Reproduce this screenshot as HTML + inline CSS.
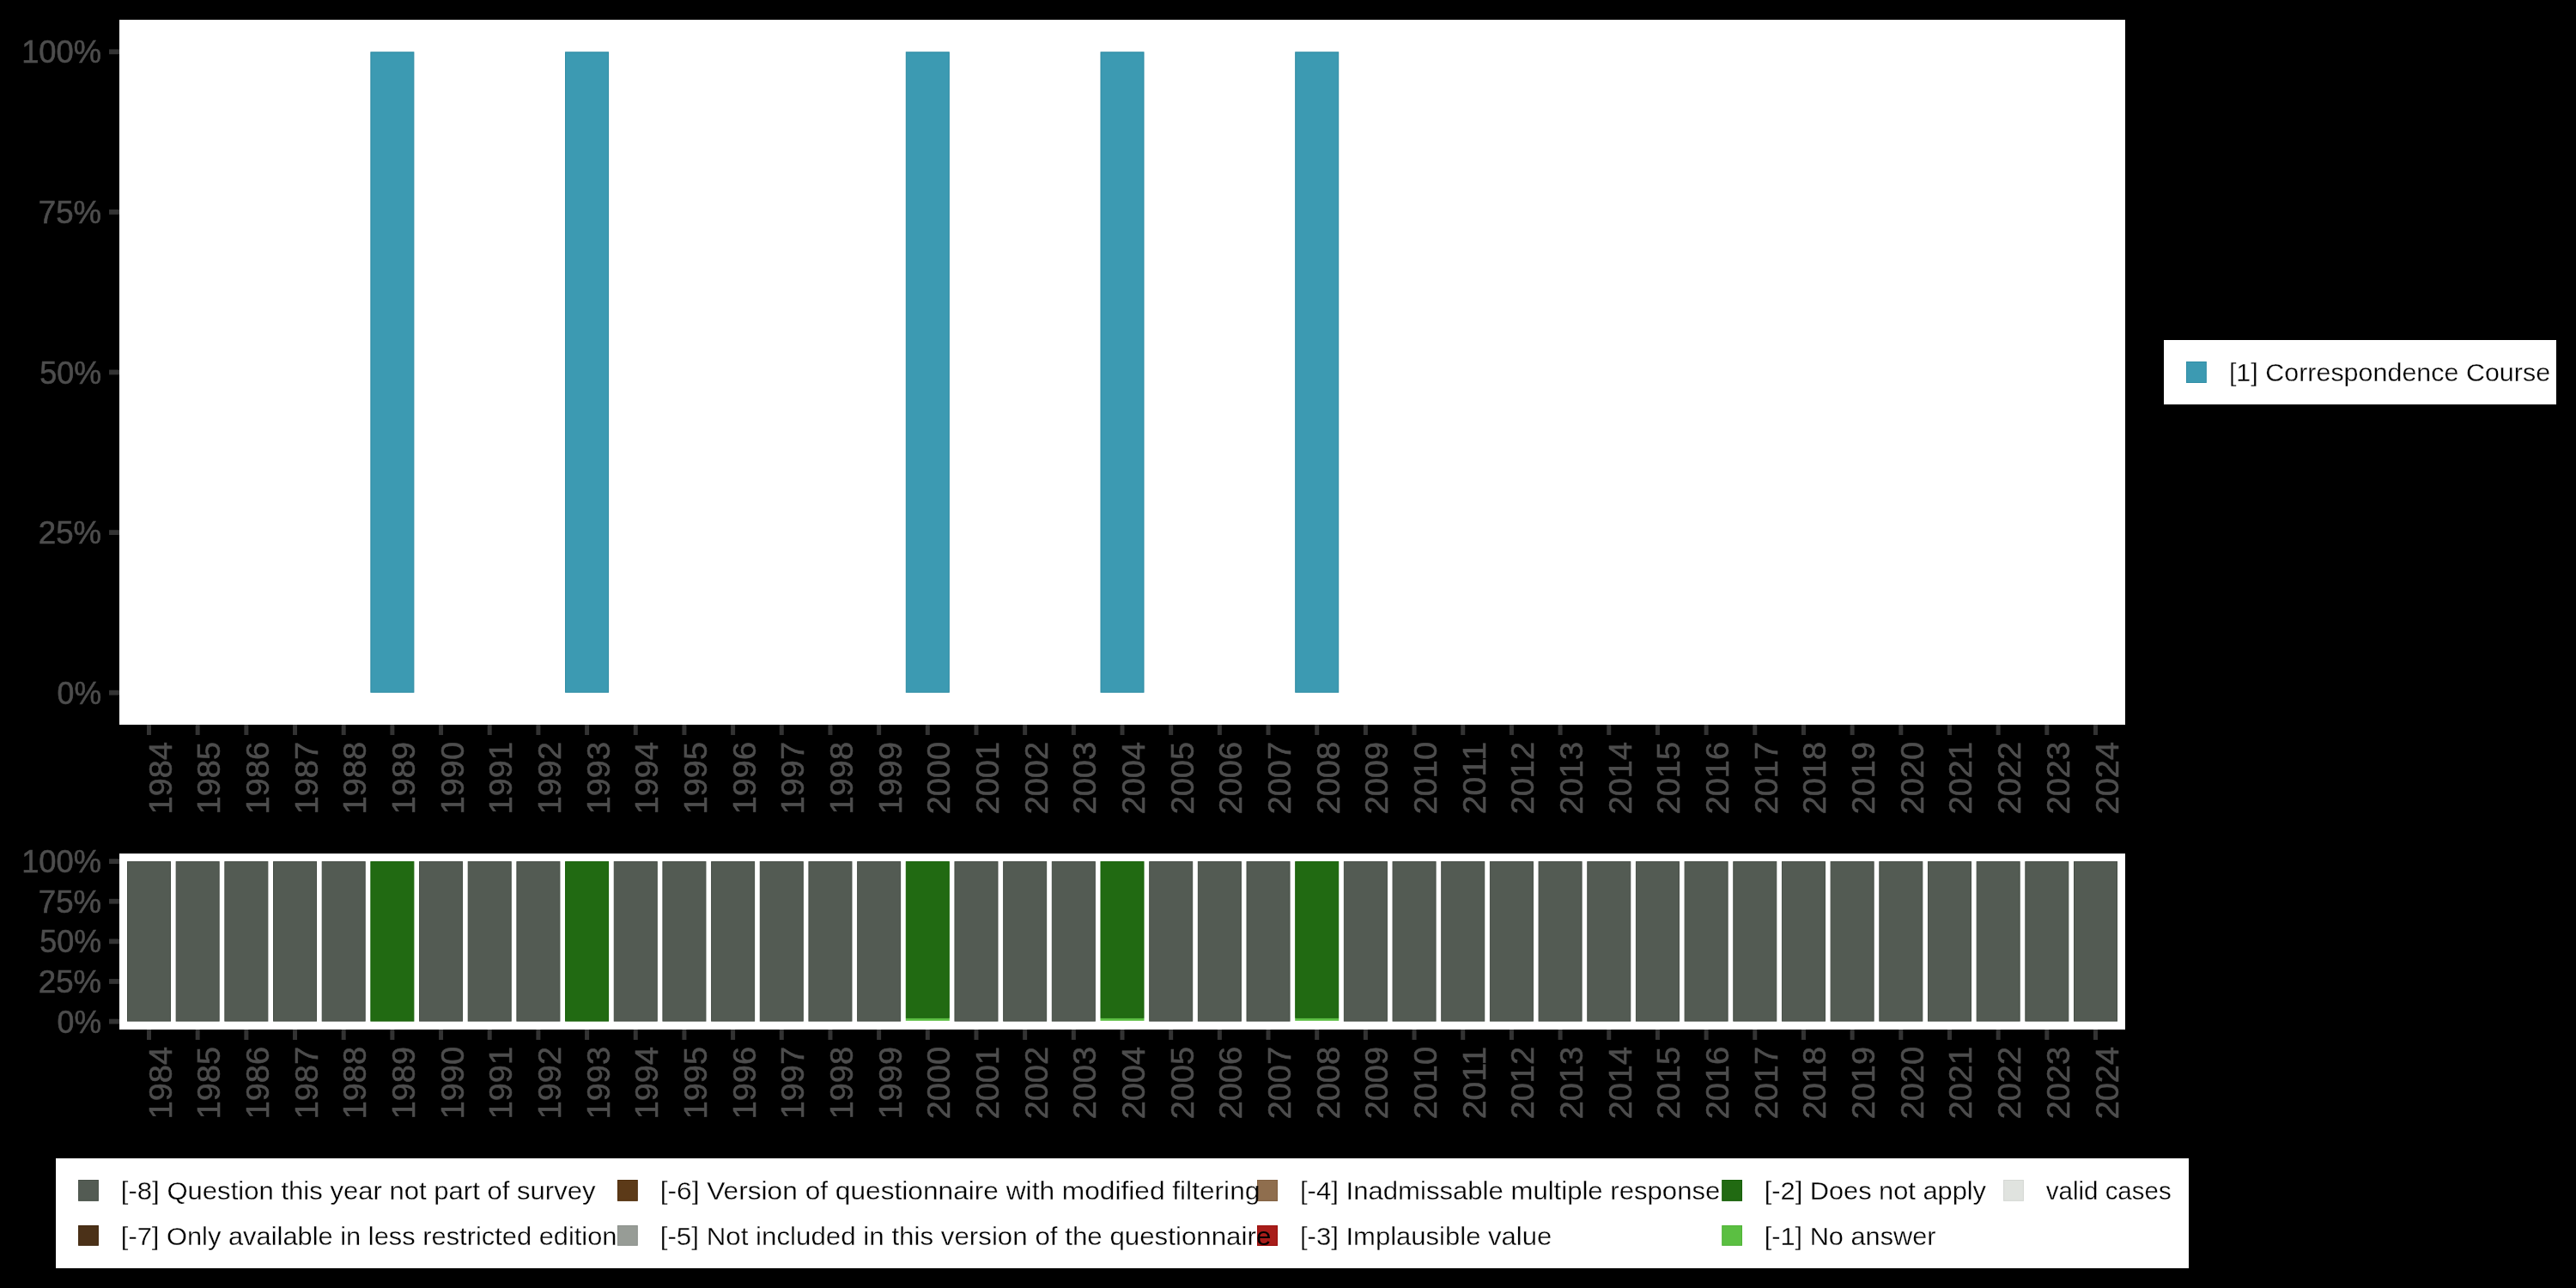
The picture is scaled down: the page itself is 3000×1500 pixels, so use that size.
<!DOCTYPE html><html><head><meta charset="utf-8"><style>html,body{margin:0;padding:0;background:#000;overflow:hidden}svg{display:block;will-change:transform}text{font-family:"Liberation Sans",sans-serif}</style></head><body>
<svg width="3000" height="1500" viewBox="0 0 3000 1500">
<rect x="0" y="0" width="3000" height="1500" fill="#000"/>
<rect x="139" y="23" width="2336" height="821" fill="#fff"/>
<rect x="431.87" y="60.80" width="50.01" height="745.40" fill="#3C9AB2" stroke="#2C8AA2" stroke-width="1"/>
<rect x="658.57" y="60.80" width="50.01" height="745.40" fill="#3C9AB2" stroke="#2C8AA2" stroke-width="1"/>
<rect x="1055.30" y="60.80" width="50.01" height="745.40" fill="#3C9AB2" stroke="#2C8AA2" stroke-width="1"/>
<rect x="1282.00" y="60.80" width="50.01" height="745.40" fill="#3C9AB2" stroke="#2C8AA2" stroke-width="1"/>
<rect x="1508.70" y="60.80" width="50.01" height="745.40" fill="#3C9AB2" stroke="#2C8AA2" stroke-width="1"/>
<rect x="127" y="803.80" width="12" height="5.8" fill="#333333"/>
<text x="66.61" y="819.70" font-size="37.0" fill="#4D4D4D" stroke="#4D4D4D" stroke-width="0.6" textLength="51.48" lengthAdjust="spacingAndGlyphs">0%</text>
<rect x="127" y="617.20" width="12" height="5.8" fill="#333333"/>
<text x="44.77" y="633.10" font-size="37.0" fill="#4D4D4D" stroke="#4D4D4D" stroke-width="0.6" textLength="73.32" lengthAdjust="spacingAndGlyphs">25%</text>
<rect x="127" y="430.60" width="12" height="5.8" fill="#333333"/>
<text x="46.27" y="446.50" font-size="37.0" fill="#4D4D4D" stroke="#4D4D4D" stroke-width="0.6" textLength="71.80" lengthAdjust="spacingAndGlyphs">50%</text>
<rect x="127" y="244.00" width="12" height="5.8" fill="#333333"/>
<text x="44.77" y="259.90" font-size="37.0" fill="#4D4D4D" stroke="#4D4D4D" stroke-width="0.6" textLength="73.32" lengthAdjust="spacingAndGlyphs">75%</text>
<rect x="127" y="57.40" width="12" height="5.8" fill="#333333"/>
<text x="25.13" y="73.30" font-size="37.0" fill="#4D4D4D" stroke="#4D4D4D" stroke-width="0.6" textLength="92.94" lengthAdjust="spacingAndGlyphs">100%</text>
<rect x="171.00" y="844" width="5" height="12" fill="#333333"/>
<text transform="translate(199.50,864) rotate(-90)" font-size="37.0" fill="#4D4D4D" stroke="#4D4D4D" stroke-width="0.6" text-anchor="end" textLength="84.3" lengthAdjust="spacingAndGlyphs">1984</text>
<rect x="227.68" y="844" width="5" height="12" fill="#333333"/>
<text transform="translate(256.18,864) rotate(-90)" font-size="37.0" fill="#4D4D4D" stroke="#4D4D4D" stroke-width="0.6" text-anchor="end" textLength="84.3" lengthAdjust="spacingAndGlyphs">1985</text>
<rect x="284.35" y="844" width="5" height="12" fill="#333333"/>
<text transform="translate(312.85,864) rotate(-90)" font-size="37.0" fill="#4D4D4D" stroke="#4D4D4D" stroke-width="0.6" text-anchor="end" textLength="84.3" lengthAdjust="spacingAndGlyphs">1986</text>
<rect x="341.02" y="844" width="5" height="12" fill="#333333"/>
<text transform="translate(369.52,864) rotate(-90)" font-size="37.0" fill="#4D4D4D" stroke="#4D4D4D" stroke-width="0.6" text-anchor="end" textLength="84.3" lengthAdjust="spacingAndGlyphs">1987</text>
<rect x="397.70" y="844" width="5" height="12" fill="#333333"/>
<text transform="translate(426.20,864) rotate(-90)" font-size="37.0" fill="#4D4D4D" stroke="#4D4D4D" stroke-width="0.6" text-anchor="end" textLength="84.3" lengthAdjust="spacingAndGlyphs">1988</text>
<rect x="454.38" y="844" width="5" height="12" fill="#333333"/>
<text transform="translate(482.88,864) rotate(-90)" font-size="37.0" fill="#4D4D4D" stroke="#4D4D4D" stroke-width="0.6" text-anchor="end" textLength="84.3" lengthAdjust="spacingAndGlyphs">1989</text>
<rect x="511.05" y="844" width="5" height="12" fill="#333333"/>
<text transform="translate(539.55,864) rotate(-90)" font-size="37.0" fill="#4D4D4D" stroke="#4D4D4D" stroke-width="0.6" text-anchor="end" textLength="84.3" lengthAdjust="spacingAndGlyphs">1990</text>
<rect x="567.72" y="844" width="5" height="12" fill="#333333"/>
<text transform="translate(596.22,864) rotate(-90)" font-size="37.0" fill="#4D4D4D" stroke="#4D4D4D" stroke-width="0.6" text-anchor="end" textLength="84.3" lengthAdjust="spacingAndGlyphs">1991</text>
<rect x="624.40" y="844" width="5" height="12" fill="#333333"/>
<text transform="translate(652.90,864) rotate(-90)" font-size="37.0" fill="#4D4D4D" stroke="#4D4D4D" stroke-width="0.6" text-anchor="end" textLength="84.3" lengthAdjust="spacingAndGlyphs">1992</text>
<rect x="681.08" y="844" width="5" height="12" fill="#333333"/>
<text transform="translate(709.58,864) rotate(-90)" font-size="37.0" fill="#4D4D4D" stroke="#4D4D4D" stroke-width="0.6" text-anchor="end" textLength="84.3" lengthAdjust="spacingAndGlyphs">1993</text>
<rect x="737.75" y="844" width="5" height="12" fill="#333333"/>
<text transform="translate(766.25,864) rotate(-90)" font-size="37.0" fill="#4D4D4D" stroke="#4D4D4D" stroke-width="0.6" text-anchor="end" textLength="84.3" lengthAdjust="spacingAndGlyphs">1994</text>
<rect x="794.42" y="844" width="5" height="12" fill="#333333"/>
<text transform="translate(822.92,864) rotate(-90)" font-size="37.0" fill="#4D4D4D" stroke="#4D4D4D" stroke-width="0.6" text-anchor="end" textLength="84.3" lengthAdjust="spacingAndGlyphs">1995</text>
<rect x="851.10" y="844" width="5" height="12" fill="#333333"/>
<text transform="translate(879.60,864) rotate(-90)" font-size="37.0" fill="#4D4D4D" stroke="#4D4D4D" stroke-width="0.6" text-anchor="end" textLength="84.3" lengthAdjust="spacingAndGlyphs">1996</text>
<rect x="907.77" y="844" width="5" height="12" fill="#333333"/>
<text transform="translate(936.27,864) rotate(-90)" font-size="37.0" fill="#4D4D4D" stroke="#4D4D4D" stroke-width="0.6" text-anchor="end" textLength="84.3" lengthAdjust="spacingAndGlyphs">1997</text>
<rect x="964.45" y="844" width="5" height="12" fill="#333333"/>
<text transform="translate(992.95,864) rotate(-90)" font-size="37.0" fill="#4D4D4D" stroke="#4D4D4D" stroke-width="0.6" text-anchor="end" textLength="84.3" lengthAdjust="spacingAndGlyphs">1998</text>
<rect x="1021.12" y="844" width="5" height="12" fill="#333333"/>
<text transform="translate(1049.62,864) rotate(-90)" font-size="37.0" fill="#4D4D4D" stroke="#4D4D4D" stroke-width="0.6" text-anchor="end" textLength="84.3" lengthAdjust="spacingAndGlyphs">1999</text>
<rect x="1077.80" y="844" width="5" height="12" fill="#333333"/>
<text transform="translate(1106.30,864) rotate(-90)" font-size="37.0" fill="#4D4D4D" stroke="#4D4D4D" stroke-width="0.6" text-anchor="end" textLength="84.3" lengthAdjust="spacingAndGlyphs">2000</text>
<rect x="1134.47" y="844" width="5" height="12" fill="#333333"/>
<text transform="translate(1162.97,864) rotate(-90)" font-size="37.0" fill="#4D4D4D" stroke="#4D4D4D" stroke-width="0.6" text-anchor="end" textLength="84.3" lengthAdjust="spacingAndGlyphs">2001</text>
<rect x="1191.15" y="844" width="5" height="12" fill="#333333"/>
<text transform="translate(1219.65,864) rotate(-90)" font-size="37.0" fill="#4D4D4D" stroke="#4D4D4D" stroke-width="0.6" text-anchor="end" textLength="84.3" lengthAdjust="spacingAndGlyphs">2002</text>
<rect x="1247.83" y="844" width="5" height="12" fill="#333333"/>
<text transform="translate(1276.33,864) rotate(-90)" font-size="37.0" fill="#4D4D4D" stroke="#4D4D4D" stroke-width="0.6" text-anchor="end" textLength="84.3" lengthAdjust="spacingAndGlyphs">2003</text>
<rect x="1304.50" y="844" width="5" height="12" fill="#333333"/>
<text transform="translate(1333.00,864) rotate(-90)" font-size="37.0" fill="#4D4D4D" stroke="#4D4D4D" stroke-width="0.6" text-anchor="end" textLength="84.3" lengthAdjust="spacingAndGlyphs">2004</text>
<rect x="1361.17" y="844" width="5" height="12" fill="#333333"/>
<text transform="translate(1389.67,864) rotate(-90)" font-size="37.0" fill="#4D4D4D" stroke="#4D4D4D" stroke-width="0.6" text-anchor="end" textLength="84.3" lengthAdjust="spacingAndGlyphs">2005</text>
<rect x="1417.85" y="844" width="5" height="12" fill="#333333"/>
<text transform="translate(1446.35,864) rotate(-90)" font-size="37.0" fill="#4D4D4D" stroke="#4D4D4D" stroke-width="0.6" text-anchor="end" textLength="84.3" lengthAdjust="spacingAndGlyphs">2006</text>
<rect x="1474.52" y="844" width="5" height="12" fill="#333333"/>
<text transform="translate(1503.02,864) rotate(-90)" font-size="37.0" fill="#4D4D4D" stroke="#4D4D4D" stroke-width="0.6" text-anchor="end" textLength="84.3" lengthAdjust="spacingAndGlyphs">2007</text>
<rect x="1531.20" y="844" width="5" height="12" fill="#333333"/>
<text transform="translate(1559.70,864) rotate(-90)" font-size="37.0" fill="#4D4D4D" stroke="#4D4D4D" stroke-width="0.6" text-anchor="end" textLength="84.3" lengthAdjust="spacingAndGlyphs">2008</text>
<rect x="1587.88" y="844" width="5" height="12" fill="#333333"/>
<text transform="translate(1616.38,864) rotate(-90)" font-size="37.0" fill="#4D4D4D" stroke="#4D4D4D" stroke-width="0.6" text-anchor="end" textLength="84.3" lengthAdjust="spacingAndGlyphs">2009</text>
<rect x="1644.55" y="844" width="5" height="12" fill="#333333"/>
<text transform="translate(1673.05,864) rotate(-90)" font-size="37.0" fill="#4D4D4D" stroke="#4D4D4D" stroke-width="0.6" text-anchor="end" textLength="84.3" lengthAdjust="spacingAndGlyphs">2010</text>
<rect x="1701.22" y="844" width="5" height="12" fill="#333333"/>
<text transform="translate(1729.72,864) rotate(-90)" font-size="37.0" fill="#4D4D4D" stroke="#4D4D4D" stroke-width="0.6" text-anchor="end" textLength="84.3" lengthAdjust="spacingAndGlyphs">2011</text>
<rect x="1757.90" y="844" width="5" height="12" fill="#333333"/>
<text transform="translate(1786.40,864) rotate(-90)" font-size="37.0" fill="#4D4D4D" stroke="#4D4D4D" stroke-width="0.6" text-anchor="end" textLength="84.3" lengthAdjust="spacingAndGlyphs">2012</text>
<rect x="1814.57" y="844" width="5" height="12" fill="#333333"/>
<text transform="translate(1843.07,864) rotate(-90)" font-size="37.0" fill="#4D4D4D" stroke="#4D4D4D" stroke-width="0.6" text-anchor="end" textLength="84.3" lengthAdjust="spacingAndGlyphs">2013</text>
<rect x="1871.25" y="844" width="5" height="12" fill="#333333"/>
<text transform="translate(1899.75,864) rotate(-90)" font-size="37.0" fill="#4D4D4D" stroke="#4D4D4D" stroke-width="0.6" text-anchor="end" textLength="84.3" lengthAdjust="spacingAndGlyphs">2014</text>
<rect x="1927.92" y="844" width="5" height="12" fill="#333333"/>
<text transform="translate(1956.42,864) rotate(-90)" font-size="37.0" fill="#4D4D4D" stroke="#4D4D4D" stroke-width="0.6" text-anchor="end" textLength="84.3" lengthAdjust="spacingAndGlyphs">2015</text>
<rect x="1984.60" y="844" width="5" height="12" fill="#333333"/>
<text transform="translate(2013.10,864) rotate(-90)" font-size="37.0" fill="#4D4D4D" stroke="#4D4D4D" stroke-width="0.6" text-anchor="end" textLength="84.3" lengthAdjust="spacingAndGlyphs">2016</text>
<rect x="2041.27" y="844" width="5" height="12" fill="#333333"/>
<text transform="translate(2069.77,864) rotate(-90)" font-size="37.0" fill="#4D4D4D" stroke="#4D4D4D" stroke-width="0.6" text-anchor="end" textLength="84.3" lengthAdjust="spacingAndGlyphs">2017</text>
<rect x="2097.95" y="844" width="5" height="12" fill="#333333"/>
<text transform="translate(2126.45,864) rotate(-90)" font-size="37.0" fill="#4D4D4D" stroke="#4D4D4D" stroke-width="0.6" text-anchor="end" textLength="84.3" lengthAdjust="spacingAndGlyphs">2018</text>
<rect x="2154.62" y="844" width="5" height="12" fill="#333333"/>
<text transform="translate(2183.12,864) rotate(-90)" font-size="37.0" fill="#4D4D4D" stroke="#4D4D4D" stroke-width="0.6" text-anchor="end" textLength="84.3" lengthAdjust="spacingAndGlyphs">2019</text>
<rect x="2211.30" y="844" width="5" height="12" fill="#333333"/>
<text transform="translate(2239.80,864) rotate(-90)" font-size="37.0" fill="#4D4D4D" stroke="#4D4D4D" stroke-width="0.6" text-anchor="end" textLength="84.3" lengthAdjust="spacingAndGlyphs">2020</text>
<rect x="2267.97" y="844" width="5" height="12" fill="#333333"/>
<text transform="translate(2296.47,864) rotate(-90)" font-size="37.0" fill="#4D4D4D" stroke="#4D4D4D" stroke-width="0.6" text-anchor="end" textLength="84.3" lengthAdjust="spacingAndGlyphs">2021</text>
<rect x="2324.65" y="844" width="5" height="12" fill="#333333"/>
<text transform="translate(2353.15,864) rotate(-90)" font-size="37.0" fill="#4D4D4D" stroke="#4D4D4D" stroke-width="0.6" text-anchor="end" textLength="84.3" lengthAdjust="spacingAndGlyphs">2022</text>
<rect x="2381.32" y="844" width="5" height="12" fill="#333333"/>
<text transform="translate(2409.82,864) rotate(-90)" font-size="37.0" fill="#4D4D4D" stroke="#4D4D4D" stroke-width="0.6" text-anchor="end" textLength="84.3" lengthAdjust="spacingAndGlyphs">2023</text>
<rect x="2438.00" y="844" width="5" height="12" fill="#333333"/>
<text transform="translate(2466.50,864) rotate(-90)" font-size="37.0" fill="#4D4D4D" stroke="#4D4D4D" stroke-width="0.6" text-anchor="end" textLength="84.3" lengthAdjust="spacingAndGlyphs">2024</text>
<rect x="139" y="994" width="2336" height="205" fill="#fff"/>
<rect x="148.50" y="1003.60" width="50.01" height="185.50" fill="#535B53" stroke="#454D45" stroke-width="1"/>
<rect x="205.17" y="1003.60" width="50.01" height="185.50" fill="#535B53" stroke="#454D45" stroke-width="1"/>
<rect x="261.85" y="1003.60" width="50.01" height="185.50" fill="#535B53" stroke="#454D45" stroke-width="1"/>
<rect x="318.52" y="1003.60" width="50.01" height="185.50" fill="#535B53" stroke="#454D45" stroke-width="1"/>
<rect x="375.20" y="1003.60" width="50.01" height="185.50" fill="#535B53" stroke="#454D45" stroke-width="1"/>
<rect x="431.87" y="1003.60" width="50.01" height="185.50" fill="#216A12" stroke="#176008" stroke-width="1"/>
<rect x="488.55" y="1003.60" width="50.01" height="185.50" fill="#535B53" stroke="#454D45" stroke-width="1"/>
<rect x="545.22" y="1003.60" width="50.01" height="185.50" fill="#535B53" stroke="#454D45" stroke-width="1"/>
<rect x="601.90" y="1003.60" width="50.01" height="185.50" fill="#535B53" stroke="#454D45" stroke-width="1"/>
<rect x="658.57" y="1003.60" width="50.01" height="185.50" fill="#216A12" stroke="#176008" stroke-width="1"/>
<rect x="715.25" y="1003.60" width="50.01" height="185.50" fill="#535B53" stroke="#454D45" stroke-width="1"/>
<rect x="771.92" y="1003.60" width="50.01" height="185.50" fill="#535B53" stroke="#454D45" stroke-width="1"/>
<rect x="828.60" y="1003.60" width="50.01" height="185.50" fill="#535B53" stroke="#454D45" stroke-width="1"/>
<rect x="885.27" y="1003.60" width="50.01" height="185.50" fill="#535B53" stroke="#454D45" stroke-width="1"/>
<rect x="941.95" y="1003.60" width="50.01" height="185.50" fill="#535B53" stroke="#454D45" stroke-width="1"/>
<rect x="998.62" y="1003.60" width="50.01" height="185.50" fill="#535B53" stroke="#454D45" stroke-width="1"/>
<rect x="1055.30" y="1003.60" width="50.01" height="181.80" fill="#216A12" stroke="#176008" stroke-width="1"/>
<rect x="1054.80" y="1185.90" width="51.01" height="2.9" fill="#5BBF42"/>
<rect x="1111.97" y="1003.60" width="50.01" height="185.50" fill="#535B53" stroke="#454D45" stroke-width="1"/>
<rect x="1168.65" y="1003.60" width="50.01" height="185.50" fill="#535B53" stroke="#454D45" stroke-width="1"/>
<rect x="1225.32" y="1003.60" width="50.01" height="185.50" fill="#535B53" stroke="#454D45" stroke-width="1"/>
<rect x="1282.00" y="1003.60" width="50.01" height="181.80" fill="#216A12" stroke="#176008" stroke-width="1"/>
<rect x="1281.50" y="1185.90" width="51.01" height="2.9" fill="#5BBF42"/>
<rect x="1338.67" y="1003.60" width="50.01" height="185.50" fill="#535B53" stroke="#454D45" stroke-width="1"/>
<rect x="1395.35" y="1003.60" width="50.01" height="185.50" fill="#535B53" stroke="#454D45" stroke-width="1"/>
<rect x="1452.02" y="1003.60" width="50.01" height="185.50" fill="#535B53" stroke="#454D45" stroke-width="1"/>
<rect x="1508.70" y="1003.60" width="50.01" height="181.80" fill="#216A12" stroke="#176008" stroke-width="1"/>
<rect x="1508.20" y="1185.90" width="51.01" height="2.9" fill="#5BBF42"/>
<rect x="1565.37" y="1003.60" width="50.01" height="185.50" fill="#535B53" stroke="#454D45" stroke-width="1"/>
<rect x="1622.05" y="1003.60" width="50.01" height="185.50" fill="#535B53" stroke="#454D45" stroke-width="1"/>
<rect x="1678.72" y="1003.60" width="50.01" height="185.50" fill="#535B53" stroke="#454D45" stroke-width="1"/>
<rect x="1735.40" y="1003.60" width="50.01" height="185.50" fill="#535B53" stroke="#454D45" stroke-width="1"/>
<rect x="1792.07" y="1003.60" width="50.01" height="185.50" fill="#535B53" stroke="#454D45" stroke-width="1"/>
<rect x="1848.75" y="1003.60" width="50.01" height="185.50" fill="#535B53" stroke="#454D45" stroke-width="1"/>
<rect x="1905.42" y="1003.60" width="50.01" height="185.50" fill="#535B53" stroke="#454D45" stroke-width="1"/>
<rect x="1962.10" y="1003.60" width="50.01" height="185.50" fill="#535B53" stroke="#454D45" stroke-width="1"/>
<rect x="2018.77" y="1003.60" width="50.01" height="185.50" fill="#535B53" stroke="#454D45" stroke-width="1"/>
<rect x="2075.45" y="1003.60" width="50.01" height="185.50" fill="#535B53" stroke="#454D45" stroke-width="1"/>
<rect x="2132.12" y="1003.60" width="50.01" height="185.50" fill="#535B53" stroke="#454D45" stroke-width="1"/>
<rect x="2188.80" y="1003.60" width="50.01" height="185.50" fill="#535B53" stroke="#454D45" stroke-width="1"/>
<rect x="2245.47" y="1003.60" width="50.01" height="185.50" fill="#535B53" stroke="#454D45" stroke-width="1"/>
<rect x="2302.15" y="1003.60" width="50.01" height="185.50" fill="#535B53" stroke="#454D45" stroke-width="1"/>
<rect x="2358.82" y="1003.60" width="50.01" height="185.50" fill="#535B53" stroke="#454D45" stroke-width="1"/>
<rect x="2415.50" y="1003.60" width="50.01" height="185.50" fill="#535B53" stroke="#454D45" stroke-width="1"/>
<rect x="127" y="1186.70" width="12" height="5.8" fill="#333333"/>
<text x="66.61" y="1202.60" font-size="37.0" fill="#4D4D4D" stroke="#4D4D4D" stroke-width="0.6" textLength="51.48" lengthAdjust="spacingAndGlyphs">0%</text>
<rect x="127" y="1140.07" width="12" height="5.8" fill="#333333"/>
<text x="44.77" y="1155.97" font-size="37.0" fill="#4D4D4D" stroke="#4D4D4D" stroke-width="0.6" textLength="73.32" lengthAdjust="spacingAndGlyphs">25%</text>
<rect x="127" y="1093.45" width="12" height="5.8" fill="#333333"/>
<text x="46.27" y="1109.35" font-size="37.0" fill="#4D4D4D" stroke="#4D4D4D" stroke-width="0.6" textLength="71.80" lengthAdjust="spacingAndGlyphs">50%</text>
<rect x="127" y="1046.82" width="12" height="5.8" fill="#333333"/>
<text x="44.77" y="1062.72" font-size="37.0" fill="#4D4D4D" stroke="#4D4D4D" stroke-width="0.6" textLength="73.32" lengthAdjust="spacingAndGlyphs">75%</text>
<rect x="127" y="1000.20" width="12" height="5.8" fill="#333333"/>
<text x="25.13" y="1016.10" font-size="37.0" fill="#4D4D4D" stroke="#4D4D4D" stroke-width="0.6" textLength="92.94" lengthAdjust="spacingAndGlyphs">100%</text>
<rect x="171.00" y="1199" width="5" height="12" fill="#333333"/>
<text transform="translate(199.50,1219) rotate(-90)" font-size="37.0" fill="#4D4D4D" stroke="#4D4D4D" stroke-width="0.6" text-anchor="end" textLength="84.3" lengthAdjust="spacingAndGlyphs">1984</text>
<rect x="227.68" y="1199" width="5" height="12" fill="#333333"/>
<text transform="translate(256.18,1219) rotate(-90)" font-size="37.0" fill="#4D4D4D" stroke="#4D4D4D" stroke-width="0.6" text-anchor="end" textLength="84.3" lengthAdjust="spacingAndGlyphs">1985</text>
<rect x="284.35" y="1199" width="5" height="12" fill="#333333"/>
<text transform="translate(312.85,1219) rotate(-90)" font-size="37.0" fill="#4D4D4D" stroke="#4D4D4D" stroke-width="0.6" text-anchor="end" textLength="84.3" lengthAdjust="spacingAndGlyphs">1986</text>
<rect x="341.02" y="1199" width="5" height="12" fill="#333333"/>
<text transform="translate(369.52,1219) rotate(-90)" font-size="37.0" fill="#4D4D4D" stroke="#4D4D4D" stroke-width="0.6" text-anchor="end" textLength="84.3" lengthAdjust="spacingAndGlyphs">1987</text>
<rect x="397.70" y="1199" width="5" height="12" fill="#333333"/>
<text transform="translate(426.20,1219) rotate(-90)" font-size="37.0" fill="#4D4D4D" stroke="#4D4D4D" stroke-width="0.6" text-anchor="end" textLength="84.3" lengthAdjust="spacingAndGlyphs">1988</text>
<rect x="454.38" y="1199" width="5" height="12" fill="#333333"/>
<text transform="translate(482.88,1219) rotate(-90)" font-size="37.0" fill="#4D4D4D" stroke="#4D4D4D" stroke-width="0.6" text-anchor="end" textLength="84.3" lengthAdjust="spacingAndGlyphs">1989</text>
<rect x="511.05" y="1199" width="5" height="12" fill="#333333"/>
<text transform="translate(539.55,1219) rotate(-90)" font-size="37.0" fill="#4D4D4D" stroke="#4D4D4D" stroke-width="0.6" text-anchor="end" textLength="84.3" lengthAdjust="spacingAndGlyphs">1990</text>
<rect x="567.72" y="1199" width="5" height="12" fill="#333333"/>
<text transform="translate(596.22,1219) rotate(-90)" font-size="37.0" fill="#4D4D4D" stroke="#4D4D4D" stroke-width="0.6" text-anchor="end" textLength="84.3" lengthAdjust="spacingAndGlyphs">1991</text>
<rect x="624.40" y="1199" width="5" height="12" fill="#333333"/>
<text transform="translate(652.90,1219) rotate(-90)" font-size="37.0" fill="#4D4D4D" stroke="#4D4D4D" stroke-width="0.6" text-anchor="end" textLength="84.3" lengthAdjust="spacingAndGlyphs">1992</text>
<rect x="681.08" y="1199" width="5" height="12" fill="#333333"/>
<text transform="translate(709.58,1219) rotate(-90)" font-size="37.0" fill="#4D4D4D" stroke="#4D4D4D" stroke-width="0.6" text-anchor="end" textLength="84.3" lengthAdjust="spacingAndGlyphs">1993</text>
<rect x="737.75" y="1199" width="5" height="12" fill="#333333"/>
<text transform="translate(766.25,1219) rotate(-90)" font-size="37.0" fill="#4D4D4D" stroke="#4D4D4D" stroke-width="0.6" text-anchor="end" textLength="84.3" lengthAdjust="spacingAndGlyphs">1994</text>
<rect x="794.42" y="1199" width="5" height="12" fill="#333333"/>
<text transform="translate(822.92,1219) rotate(-90)" font-size="37.0" fill="#4D4D4D" stroke="#4D4D4D" stroke-width="0.6" text-anchor="end" textLength="84.3" lengthAdjust="spacingAndGlyphs">1995</text>
<rect x="851.10" y="1199" width="5" height="12" fill="#333333"/>
<text transform="translate(879.60,1219) rotate(-90)" font-size="37.0" fill="#4D4D4D" stroke="#4D4D4D" stroke-width="0.6" text-anchor="end" textLength="84.3" lengthAdjust="spacingAndGlyphs">1996</text>
<rect x="907.77" y="1199" width="5" height="12" fill="#333333"/>
<text transform="translate(936.27,1219) rotate(-90)" font-size="37.0" fill="#4D4D4D" stroke="#4D4D4D" stroke-width="0.6" text-anchor="end" textLength="84.3" lengthAdjust="spacingAndGlyphs">1997</text>
<rect x="964.45" y="1199" width="5" height="12" fill="#333333"/>
<text transform="translate(992.95,1219) rotate(-90)" font-size="37.0" fill="#4D4D4D" stroke="#4D4D4D" stroke-width="0.6" text-anchor="end" textLength="84.3" lengthAdjust="spacingAndGlyphs">1998</text>
<rect x="1021.12" y="1199" width="5" height="12" fill="#333333"/>
<text transform="translate(1049.62,1219) rotate(-90)" font-size="37.0" fill="#4D4D4D" stroke="#4D4D4D" stroke-width="0.6" text-anchor="end" textLength="84.3" lengthAdjust="spacingAndGlyphs">1999</text>
<rect x="1077.80" y="1199" width="5" height="12" fill="#333333"/>
<text transform="translate(1106.30,1219) rotate(-90)" font-size="37.0" fill="#4D4D4D" stroke="#4D4D4D" stroke-width="0.6" text-anchor="end" textLength="84.3" lengthAdjust="spacingAndGlyphs">2000</text>
<rect x="1134.47" y="1199" width="5" height="12" fill="#333333"/>
<text transform="translate(1162.97,1219) rotate(-90)" font-size="37.0" fill="#4D4D4D" stroke="#4D4D4D" stroke-width="0.6" text-anchor="end" textLength="84.3" lengthAdjust="spacingAndGlyphs">2001</text>
<rect x="1191.15" y="1199" width="5" height="12" fill="#333333"/>
<text transform="translate(1219.65,1219) rotate(-90)" font-size="37.0" fill="#4D4D4D" stroke="#4D4D4D" stroke-width="0.6" text-anchor="end" textLength="84.3" lengthAdjust="spacingAndGlyphs">2002</text>
<rect x="1247.83" y="1199" width="5" height="12" fill="#333333"/>
<text transform="translate(1276.33,1219) rotate(-90)" font-size="37.0" fill="#4D4D4D" stroke="#4D4D4D" stroke-width="0.6" text-anchor="end" textLength="84.3" lengthAdjust="spacingAndGlyphs">2003</text>
<rect x="1304.50" y="1199" width="5" height="12" fill="#333333"/>
<text transform="translate(1333.00,1219) rotate(-90)" font-size="37.0" fill="#4D4D4D" stroke="#4D4D4D" stroke-width="0.6" text-anchor="end" textLength="84.3" lengthAdjust="spacingAndGlyphs">2004</text>
<rect x="1361.17" y="1199" width="5" height="12" fill="#333333"/>
<text transform="translate(1389.67,1219) rotate(-90)" font-size="37.0" fill="#4D4D4D" stroke="#4D4D4D" stroke-width="0.6" text-anchor="end" textLength="84.3" lengthAdjust="spacingAndGlyphs">2005</text>
<rect x="1417.85" y="1199" width="5" height="12" fill="#333333"/>
<text transform="translate(1446.35,1219) rotate(-90)" font-size="37.0" fill="#4D4D4D" stroke="#4D4D4D" stroke-width="0.6" text-anchor="end" textLength="84.3" lengthAdjust="spacingAndGlyphs">2006</text>
<rect x="1474.52" y="1199" width="5" height="12" fill="#333333"/>
<text transform="translate(1503.02,1219) rotate(-90)" font-size="37.0" fill="#4D4D4D" stroke="#4D4D4D" stroke-width="0.6" text-anchor="end" textLength="84.3" lengthAdjust="spacingAndGlyphs">2007</text>
<rect x="1531.20" y="1199" width="5" height="12" fill="#333333"/>
<text transform="translate(1559.70,1219) rotate(-90)" font-size="37.0" fill="#4D4D4D" stroke="#4D4D4D" stroke-width="0.6" text-anchor="end" textLength="84.3" lengthAdjust="spacingAndGlyphs">2008</text>
<rect x="1587.88" y="1199" width="5" height="12" fill="#333333"/>
<text transform="translate(1616.38,1219) rotate(-90)" font-size="37.0" fill="#4D4D4D" stroke="#4D4D4D" stroke-width="0.6" text-anchor="end" textLength="84.3" lengthAdjust="spacingAndGlyphs">2009</text>
<rect x="1644.55" y="1199" width="5" height="12" fill="#333333"/>
<text transform="translate(1673.05,1219) rotate(-90)" font-size="37.0" fill="#4D4D4D" stroke="#4D4D4D" stroke-width="0.6" text-anchor="end" textLength="84.3" lengthAdjust="spacingAndGlyphs">2010</text>
<rect x="1701.22" y="1199" width="5" height="12" fill="#333333"/>
<text transform="translate(1729.72,1219) rotate(-90)" font-size="37.0" fill="#4D4D4D" stroke="#4D4D4D" stroke-width="0.6" text-anchor="end" textLength="84.3" lengthAdjust="spacingAndGlyphs">2011</text>
<rect x="1757.90" y="1199" width="5" height="12" fill="#333333"/>
<text transform="translate(1786.40,1219) rotate(-90)" font-size="37.0" fill="#4D4D4D" stroke="#4D4D4D" stroke-width="0.6" text-anchor="end" textLength="84.3" lengthAdjust="spacingAndGlyphs">2012</text>
<rect x="1814.57" y="1199" width="5" height="12" fill="#333333"/>
<text transform="translate(1843.07,1219) rotate(-90)" font-size="37.0" fill="#4D4D4D" stroke="#4D4D4D" stroke-width="0.6" text-anchor="end" textLength="84.3" lengthAdjust="spacingAndGlyphs">2013</text>
<rect x="1871.25" y="1199" width="5" height="12" fill="#333333"/>
<text transform="translate(1899.75,1219) rotate(-90)" font-size="37.0" fill="#4D4D4D" stroke="#4D4D4D" stroke-width="0.6" text-anchor="end" textLength="84.3" lengthAdjust="spacingAndGlyphs">2014</text>
<rect x="1927.92" y="1199" width="5" height="12" fill="#333333"/>
<text transform="translate(1956.42,1219) rotate(-90)" font-size="37.0" fill="#4D4D4D" stroke="#4D4D4D" stroke-width="0.6" text-anchor="end" textLength="84.3" lengthAdjust="spacingAndGlyphs">2015</text>
<rect x="1984.60" y="1199" width="5" height="12" fill="#333333"/>
<text transform="translate(2013.10,1219) rotate(-90)" font-size="37.0" fill="#4D4D4D" stroke="#4D4D4D" stroke-width="0.6" text-anchor="end" textLength="84.3" lengthAdjust="spacingAndGlyphs">2016</text>
<rect x="2041.27" y="1199" width="5" height="12" fill="#333333"/>
<text transform="translate(2069.77,1219) rotate(-90)" font-size="37.0" fill="#4D4D4D" stroke="#4D4D4D" stroke-width="0.6" text-anchor="end" textLength="84.3" lengthAdjust="spacingAndGlyphs">2017</text>
<rect x="2097.95" y="1199" width="5" height="12" fill="#333333"/>
<text transform="translate(2126.45,1219) rotate(-90)" font-size="37.0" fill="#4D4D4D" stroke="#4D4D4D" stroke-width="0.6" text-anchor="end" textLength="84.3" lengthAdjust="spacingAndGlyphs">2018</text>
<rect x="2154.62" y="1199" width="5" height="12" fill="#333333"/>
<text transform="translate(2183.12,1219) rotate(-90)" font-size="37.0" fill="#4D4D4D" stroke="#4D4D4D" stroke-width="0.6" text-anchor="end" textLength="84.3" lengthAdjust="spacingAndGlyphs">2019</text>
<rect x="2211.30" y="1199" width="5" height="12" fill="#333333"/>
<text transform="translate(2239.80,1219) rotate(-90)" font-size="37.0" fill="#4D4D4D" stroke="#4D4D4D" stroke-width="0.6" text-anchor="end" textLength="84.3" lengthAdjust="spacingAndGlyphs">2020</text>
<rect x="2267.97" y="1199" width="5" height="12" fill="#333333"/>
<text transform="translate(2296.47,1219) rotate(-90)" font-size="37.0" fill="#4D4D4D" stroke="#4D4D4D" stroke-width="0.6" text-anchor="end" textLength="84.3" lengthAdjust="spacingAndGlyphs">2021</text>
<rect x="2324.65" y="1199" width="5" height="12" fill="#333333"/>
<text transform="translate(2353.15,1219) rotate(-90)" font-size="37.0" fill="#4D4D4D" stroke="#4D4D4D" stroke-width="0.6" text-anchor="end" textLength="84.3" lengthAdjust="spacingAndGlyphs">2022</text>
<rect x="2381.32" y="1199" width="5" height="12" fill="#333333"/>
<text transform="translate(2409.82,1219) rotate(-90)" font-size="37.0" fill="#4D4D4D" stroke="#4D4D4D" stroke-width="0.6" text-anchor="end" textLength="84.3" lengthAdjust="spacingAndGlyphs">2023</text>
<rect x="2438.00" y="1199" width="5" height="12" fill="#333333"/>
<text transform="translate(2466.50,1219) rotate(-90)" font-size="37.0" fill="#4D4D4D" stroke="#4D4D4D" stroke-width="0.6" text-anchor="end" textLength="84.3" lengthAdjust="spacingAndGlyphs">2024</text>
<rect x="2520" y="396" width="457" height="75" fill="#fff"/>
<rect x="65" y="1349" width="2484" height="128" fill="#fff"/>
<rect x="2546.5" y="421.5" width="22.8" height="24.00" fill="#3C9AB2" stroke="#308EA6" stroke-width="1"/>
<rect x="91.6" y="1374.5" width="22.8" height="23.85" fill="#535B53" stroke="#474F47" stroke-width="1"/>
<rect x="91.6" y="1427.5" width="22.8" height="22.80" fill="#4B3118" stroke="#3F250C" stroke-width="1"/>
<rect x="719.5" y="1374.5" width="22.8" height="23.85" fill="#5C3A18" stroke="#502E0C" stroke-width="1"/>
<rect x="719.5" y="1427.5" width="22.8" height="22.80" fill="#979C96" stroke="#8B908A" stroke-width="1"/>
<rect x="1464.6" y="1374.5" width="22.8" height="23.85" fill="#8F6E4E" stroke="#836242" stroke-width="1"/>
<rect x="1464.6" y="1427.5" width="22.8" height="22.80" fill="#A81D1A" stroke="#9C110E" stroke-width="1"/>
<rect x="2005.7" y="1374.5" width="22.8" height="23.85" fill="#216A12" stroke="#155E06" stroke-width="1"/>
<rect x="2005.7" y="1427.5" width="22.8" height="22.80" fill="#5BBF42" stroke="#4FB336" stroke-width="1"/>
<rect x="2333.6" y="1374.5" width="22.8" height="23.85" fill="#E0E3DF" stroke="#D4D7D3" stroke-width="1"/>
<text x="2595.90" y="443.9" font-size="30.4" fill="#000" stroke="#fff" stroke-width="0.3" textLength="374.20" lengthAdjust="spacingAndGlyphs">[1] Correspondence Course</text>
<text x="140.85" y="1396.6" font-size="30.4" fill="#000" stroke="#fff" stroke-width="0.3" textLength="552.72" lengthAdjust="spacingAndGlyphs">[-8] Question this year not part of survey</text>
<text x="140.87" y="1449.8" font-size="30.4" fill="#000" stroke="#fff" stroke-width="0.3" textLength="577.66" lengthAdjust="spacingAndGlyphs">[-7] Only available in less restricted edition</text>
<text x="768.71" y="1396.6" font-size="30.4" fill="#000" stroke="#fff" stroke-width="0.3" textLength="698.66" lengthAdjust="spacingAndGlyphs">[-6] Version of questionnaire with modified filtering</text>
<text x="768.74" y="1449.8" font-size="30.4" fill="#000" stroke="#fff" stroke-width="0.3" textLength="711.59" lengthAdjust="spacingAndGlyphs">[-5] Not included in this version of the questionnaire</text>
<text x="1513.95" y="1396.6" font-size="30.4" fill="#000" stroke="#fff" stroke-width="0.3" textLength="489.36" lengthAdjust="spacingAndGlyphs">[-4] Inadmissable multiple response</text>
<text x="1513.96" y="1449.8" font-size="30.4" fill="#000" stroke="#fff" stroke-width="0.3" textLength="293.28" lengthAdjust="spacingAndGlyphs">[-3] Implausible value</text>
<text x="2054.78" y="1396.6" font-size="30.4" fill="#000" stroke="#fff" stroke-width="0.3" textLength="258.21" lengthAdjust="spacingAndGlyphs">[-2] Does not apply</text>
<text x="2054.78" y="1449.8" font-size="30.4" fill="#000" stroke="#fff" stroke-width="0.3" textLength="199.74" lengthAdjust="spacingAndGlyphs">[-1] No answer</text>
<text x="2382.82" y="1396.6" font-size="30.4" fill="#000" stroke="#fff" stroke-width="0.3" textLength="145.83" lengthAdjust="spacingAndGlyphs">valid cases</text>
<clipPath id="kc0"><rect x="1464.1" y="1374" width="23.8" height="24.85"/></clipPath>
<rect x="1464.6" y="1374.5" width="22.8" height="23.85" fill="#8F6E4E" stroke="#836242" stroke-width="1"/>
<text clip-path="url(#kc0)" x="768.71" y="1396.6" font-size="30.4" fill="#000" textLength="698.66" lengthAdjust="spacingAndGlyphs">[-6] Version of questionnaire with modified filtering</text>
<clipPath id="kc1"><rect x="1464.1" y="1427" width="23.8" height="23.8"/></clipPath>
<rect x="1464.6" y="1427.5" width="22.8" height="22.80" fill="#A81D1A" stroke="#9C110E" stroke-width="1"/>
<text clip-path="url(#kc1)" x="768.74" y="1449.8" font-size="30.4" fill="#000" textLength="711.59" lengthAdjust="spacingAndGlyphs">[-5] Not included in this version of the questionnaire</text>
</svg></body></html>
